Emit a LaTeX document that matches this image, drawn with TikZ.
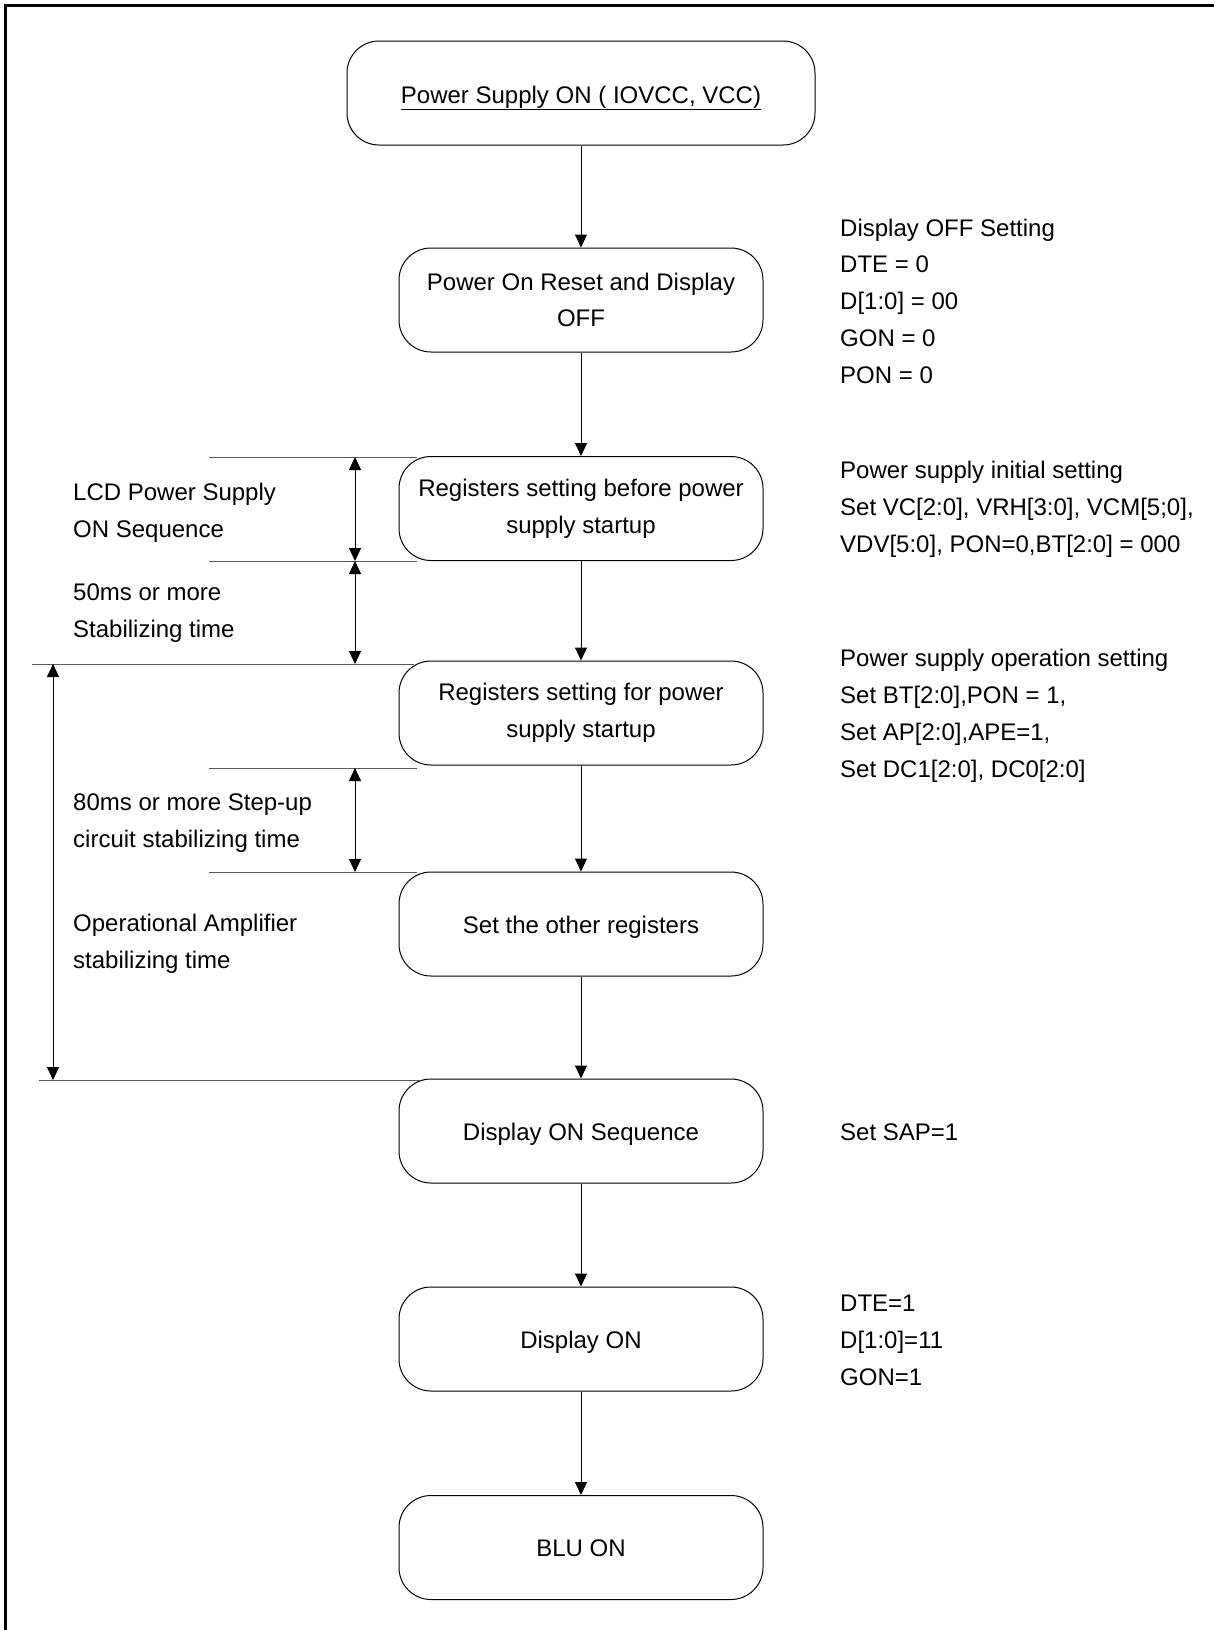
\documentclass[tikz,border=0pt]{standalone}
\usepackage{fontspec}
\setmainfont{Liberation Sans}
\usetikzlibrary{arrows.meta}
\newcommand{\fs}{\fontsize{24}{36.7}\selectfont}
\begin{document}
\begin{tikzpicture}[x=1pt,y=-1pt,
  box/.style={draw, line width=1pt, rounded corners=32pt, minimum width=364pt, minimum height=104pt, align=center, inner sep=0pt, font=\fs},
  single/.style={text height=18pt, text depth=0pt},
  note/.style={anchor=base west, align=left, inner sep=0pt, font=\fs},
  arr/.style={-{Triangle[length=13pt,width=12pt]}, line width=1pt},
  darr/.style={{Triangle[length=13pt,width=12pt]}-{Triangle[length=13pt,width=12pt]}, line width=1pt},
  guide/.style={line width=1pt, black!65}]
\useasboundingbox (0,0) rectangle (1214,1630);
% frame (top and left only)
\draw[line width=3pt] (5,1630) -- (5,5) -- (1214,5);
% boxes
\node[box, minimum width=468pt, text height=20pt, text depth=0pt] (b1) at (581,93) {\underline{Power Supply ON ( IOVCC, VCC)}};
\node[box] (b2) at (581,300) {Power On Reset and Display\\OFF};
\node[box] (b3) at (581,508.5) {Registers setting before power\\supply startup};
\node[box] (b4) at (581,713) {Registers setting for power\\supply startup};
\node[box, single] (b5) at (581,924) {Set the other registers};
\node[box, single] (b6) at (581,1131) {Display ON Sequence};
\node[box, single] (b7) at (581,1339) {Display ON};
\node[box, single] (b8) at (581,1547.5) {BLU ON};
% flow connectors
\draw[arr] (b1) -- (b2);
\draw[arr] (b2) -- (b3);
\draw[arr] (b3) -- (b4);
\draw[arr] (b4) -- (b5);
\draw[arr] (b5) -- (b6);
\draw[arr] (b6) -- (b7);
\draw[arr] (b7) -- (b8);
% guide lines
\coordinate (g1l) at (209,457);  \coordinate (g1r) at (417,457);
\coordinate (g2l) at (209,561);  \coordinate (g2r) at (417,561);
\coordinate (g3l) at (32,664);   \coordinate (g3r) at (414,664);
\coordinate (g4l) at (209,768);  \coordinate (g4r) at (417,768);
\coordinate (g5l) at (209,872);  \coordinate (g5r) at (417,872);
\coordinate (g6l) at (39,1080);  \coordinate (g6r) at (421,1080);
\draw[guide] (g1l) -- (g1r);
\draw[guide] (g2l) -- (g2r);
\draw[guide] (g3l) -- (g3r);
\draw[guide] (g4l) -- (g4r);
\draw[guide] (g5l) -- (g5r);
\draw[guide] (g6l) -- (g6r);
% dimension arrows
\coordinate (d1a) at (355,457);  \coordinate (d1b) at (355,561);
\coordinate (d2a) at (355,561);  \coordinate (d2b) at (355,664);
\coordinate (d3a) at (355,768);  \coordinate (d3b) at (355,872);
\coordinate (d4a) at (53,664);   \coordinate (d4b) at (53,1080);
\draw[darr] (d1a) -- (d1b);
\draw[darr] (d2a) -- (d2b);
\draw[darr] (d3a) -- (d3b);
\draw[darr] (d4a) -- (d4b);
% left notes (anchored at the baseline of the last line)
\node[note] (n1) at (73,537) {LCD Power Supply\\ON Sequence};
\node[note] (n2) at (73,637) {50ms or more\\Stabilizing time};
\node[note] (n3) at (73,847) {80ms or more Step-up\\circuit stabilizing time};
\node[note] (n4) at (73,968) {Operational Amplifier\\stabilizing time};
% right notes
\node[note] (r1) at (840,383) {Display OFF Setting\\DTE = 0\\D[1:0] = 00\\GON = 0\\PON = 0};
\node[note] (r2) at (840,552) {Power supply initial setting\\Set VC[2:0], VRH[3:0], VCM[5;0],\\VDV[5:0], PON=0,BT[2:0] = 000};
\node[note] (r3) at (840,777) {Power supply operation setting\\Set BT[2:0],PON = 1,\\Set AP[2:0],APE=1,\\Set DC1[2:0], DC0[2:0]};
\node[note] (r4) at (840,1140) {Set SAP=1};
\node[note] (r5) at (840,1385) {DTE=1\\D[1:0]=11\\GON=1};
\end{tikzpicture}
\end{document}
